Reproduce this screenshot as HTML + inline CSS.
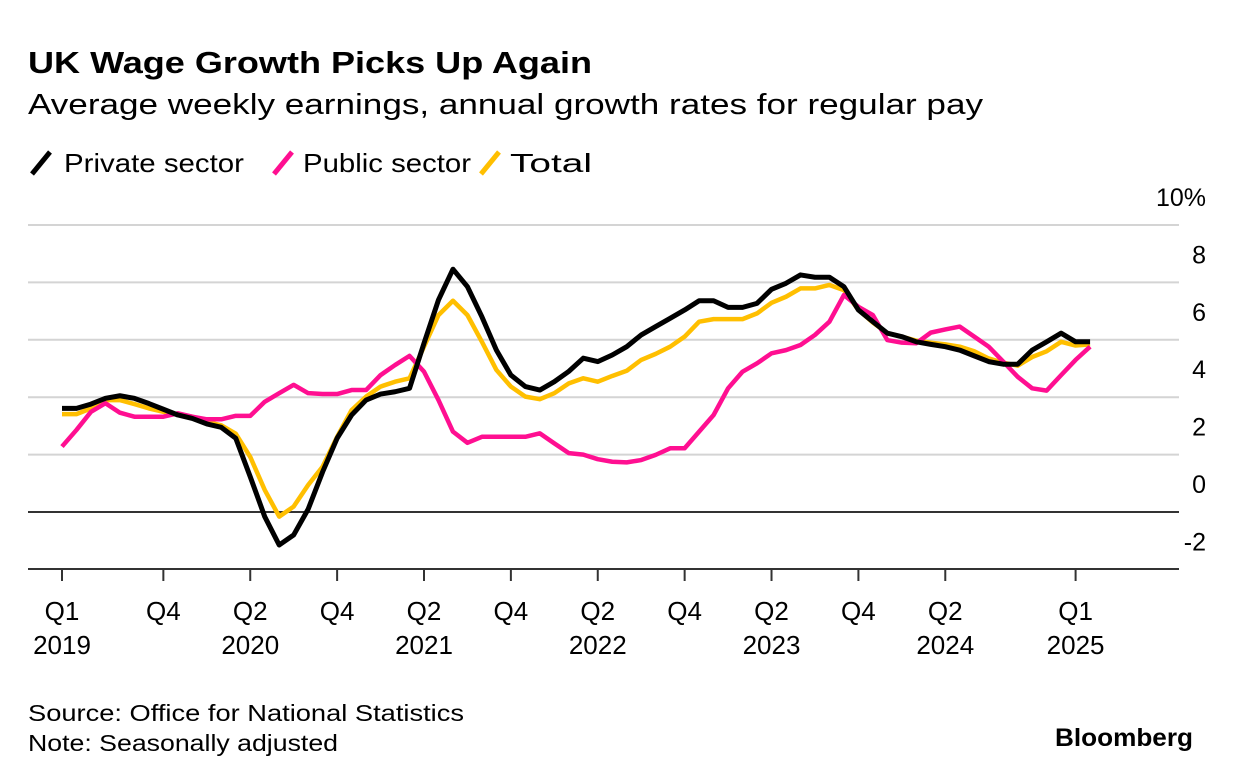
<!DOCTYPE html>
<html><head><meta charset="utf-8"><style>
body{margin:0;background:#fff;width:1233px;height:782px;overflow:hidden;font-family:"Liberation Sans",sans-serif;color:#000}
svg{position:absolute;left:0;top:0}
</style></head><body>
<svg width="1233" height="782">
<text x="28" y="73" font-size="31" font-weight="bold" textLength="564" lengthAdjust="spacingAndGlyphs">UK Wage Growth Picks Up Again</text>
<text x="28" y="114" font-size="29" textLength="955" lengthAdjust="spacingAndGlyphs">Average weekly earnings, annual growth rates for regular pay</text>
<g font-size="26">
<g><line x1="32" y1="174" x2="50" y2="152" stroke="#000" stroke-width="5"/><text x="64" y="172" textLength="180" lengthAdjust="spacingAndGlyphs">Private sector</text></g>
<g><line x1="274" y1="174" x2="292" y2="152" stroke="#ff0f91" stroke-width="5"/><text x="303" y="172" textLength="168" lengthAdjust="spacingAndGlyphs">Public sector</text></g>
<g><line x1="481" y1="174" x2="499" y2="152" stroke="#ffbf00" stroke-width="5"/><text x="510" y="172" textLength="82" lengthAdjust="spacingAndGlyphs">Total</text></g>
</g>
<g id="grid"></g><g id="xaxis"></g><g id="lines"></g>
<text x="28" y="721" font-size="23" textLength="436" lengthAdjust="spacingAndGlyphs">Source: Office for National Statistics</text>
<text x="28" y="751" font-size="23" textLength="310" lengthAdjust="spacingAndGlyphs">Note: Seasonally adjusted</text>
<text x="1055" y="746" font-size="25" font-weight="bold" textLength="138" lengthAdjust="spacingAndGlyphs">Bloomberg</text>
</svg>
<script>
const yTicks=[10,8,6,4,2,0,-2];
const xTickIdx=[0,7,13,19,25,31,37,43,49,55,61,70];
const xTickQ=["Q1","Q4","Q2","Q4","Q2","Q4","Q2","Q4","Q2","Q4","Q2","Q1"];
const xTickYear=["2019","","2020","","2021","","2022","","2023","","2024","2025"];
const privateSector=[3.61,3.61,3.76,3.96,4.05,3.96,3.78,3.58,3.38,3.26,3.07,2.95,2.57,1.23,-0.16,-1.15,-0.80,0.10,1.40,2.57,3.38,3.90,4.11,4.19,4.31,5.88,7.39,8.46,7.85,6.80,5.64,4.77,4.37,4.25,4.54,4.90,5.36,5.24,5.47,5.76,6.17,6.46,6.75,7.04,7.36,7.36,7.13,7.13,7.27,7.76,7.97,8.26,8.18,8.18,7.85,7.04,6.63,6.23,6.11,5.93,5.84,5.76,5.64,5.44,5.24,5.15,5.15,5.64,5.93,6.23,5.93,5.93];
const publicSector=[2.28,2.86,3.49,3.79,3.46,3.32,3.32,3.32,3.44,3.32,3.23,3.23,3.35,3.35,3.84,4.14,4.43,4.14,4.11,4.11,4.25,4.25,4.77,5.12,5.44,4.89,3.90,2.80,2.41,2.62,2.62,2.62,2.62,2.74,2.39,2.05,2.0,1.84,1.75,1.73,1.81,1.99,2.22,2.22,2.80,3.38,4.31,4.89,5.18,5.53,5.64,5.82,6.17,6.63,7.56,7.15,6.86,5.99,5.90,5.88,6.25,6.36,6.46,6.11,5.76,5.24,4.71,4.31,4.23,4.77,5.30,5.76];
const totalPay=[3.41,3.41,3.61,3.90,3.90,3.76,3.61,3.49,3.40,3.32,3.14,3.02,2.73,1.92,0.77,-0.16,0.19,0.94,1.58,2.62,3.55,4.02,4.37,4.54,4.66,5.76,6.86,7.36,6.86,5.93,4.95,4.37,4.02,3.93,4.14,4.48,4.66,4.54,4.74,4.92,5.30,5.51,5.76,6.11,6.63,6.72,6.72,6.72,6.92,7.29,7.50,7.79,7.79,7.91,7.73,7.04,6.60,6.23,6.11,5.97,5.90,5.84,5.76,5.60,5.35,5.20,5.10,5.40,5.60,5.93,5.80,5.84];
const NS="http://www.w3.org/2000/svg";
const x=i=>62+i*14.48;
const y=v=>512-v*28.7;
function mk(tag,attrs,parent){const e=document.createElementNS(NS,tag);for(const k in attrs)e.setAttribute(k,attrs[k]);parent.appendChild(e);return e;}
const grid=document.getElementById('grid');
yTicks.forEach(t=>{
  if(t>-2){
    const l=mk('line',{x1:28,x2:1179,y1:y(t),y2:y(t),stroke:t===0?'#333':'#d4d4d4','stroke-width':2},grid);
    
    
  }
  const tx=mk('text',{x:1206,y:y(t)-19,'font-size':25,'text-anchor':'end'},grid);
  tx.textContent=t===10?'10%':String(t);
  
  
});
const xa=document.getElementById('xaxis');
const ax=mk('line',{x1:28,x2:1179,y1:569,y2:569,stroke:'#333','stroke-width':2},xa);


xTickIdx.forEach((m,i)=>{
  const tk=mk('line',{x1:x(m),x2:x(m),y1:569,y2:581,stroke:'#333','stroke-width':2},xa);
  
  
  const t1=mk('text',{x:x(m),y:620,'font-size':26,'text-anchor':'middle'},xa);
  t1.textContent=xTickQ[i];
  
  
  if(xTickYear[i]){
    const t2=mk('text',{x:x(m),y:654,'font-size':26,'text-anchor':'middle'},xa);
    t2.textContent=xTickYear[i];
    
    
  }
});
const lg=document.getElementById('lines');
[[totalPay,'#ffbf00','line-total'],[publicSector,'#ff0f91','line-public-sector'],[privateSector,'#000','line-private-sector']].forEach(([d,c,n])=>{
  const p=mk('polyline',{points:d.map((v,i)=>x(i)+','+y(v)).join(' '),fill:'none',stroke:c,'stroke-width':n==='line-private-sector'?5:4.5,'stroke-linejoin':'round'},lg);
  
  
});
</script>
</body></html>
